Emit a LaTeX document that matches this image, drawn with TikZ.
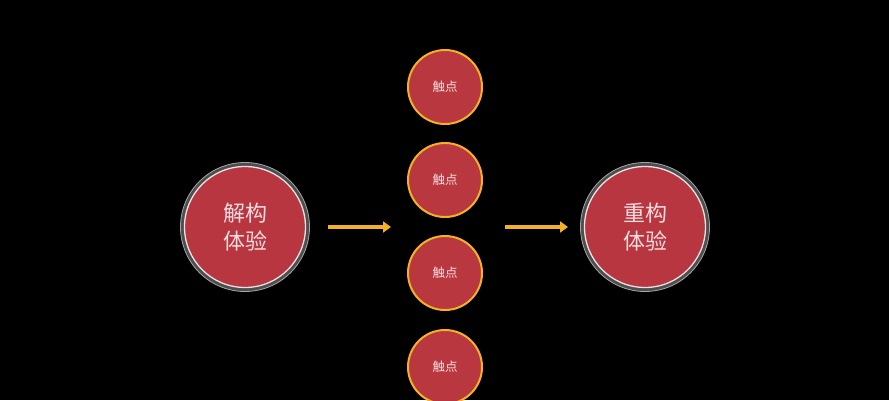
\documentclass[tikz,border=0pt]{standalone}
\usepackage{fontspec}
\newfontfamily\cjk{Noto Sans CJK SC}
\definecolor{bigred}{HTML}{B8363F}
\definecolor{smallred}{HTML}{B9383F}
\definecolor{gold}{HTML}{F4B222}
\definecolor{ringgray}{HTML}{4E4E4E}
\definecolor{txt}{HTML}{F4DDE0}
\tikzset{
  bigc/.style={circle,minimum size=121pt,inner sep=0pt,fill=bigred,draw=white!80!gray,line width=1.3pt,text=txt,font=\cjk\fontsize{22pt}{28pt}\selectfont,align=center},
  ringc/.style={circle,minimum size=129pt,inner sep=0pt,fill=ringgray,draw=gray!70,line width=0.8pt},
  touch/.style={circle,minimum size=74pt,inner sep=0pt,fill=smallred,draw=gold,line width=2pt,text=txt,font=\cjk\fontsize{12.5pt}{15pt}\selectfont},
  flow/.style={draw=gold,line width=3.2pt,-{Triangle[length=8pt,width=11pt]}}
}
\usetikzlibrary{arrows.meta}
\begin{document}
\begin{tikzpicture}[x=1pt,y=-1pt]
\fill[black] (0,0) rectangle (889,400);
\useasboundingbox (0,0) rectangle (889,400);
\node[ringc] (lring) at (245,227) {};
\node[bigc] (left) at (245,227) {解构\\体验};
\node[ringc] (rring) at (645,227) {};
\node[bigc] (right) at (645,227) {重构\\体验};
\node[touch] (t1) at (445,87) {触点};
\node[touch] (t2) at (445,180) {触点};
\node[touch] (t3) at (445,273) {触点};
\node[touch] (t4) at (445,367) {触点};
\coordinate (a1s) at (328,227);
\coordinate (a1e) at (391,227);
\coordinate (a2s) at (505,227);
\coordinate (a2e) at (568,227);
\draw[flow] (a1s) -- (a1e);
\draw[flow] (a2s) -- (a2e);
\end{tikzpicture}
\end{document}
